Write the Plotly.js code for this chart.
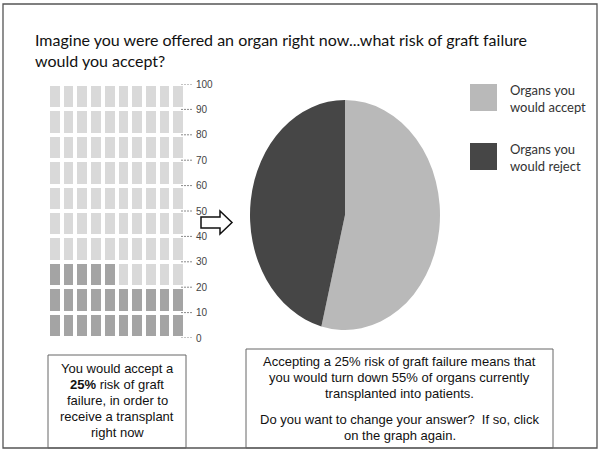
<!DOCTYPE html>
<html>
<head>
<meta charset="utf-8">
<script src="https://cdn.plot.ly/plotly-3.0.1.min.js"></script>
<style>html,body{margin:0;padding:0;background:#fff;}#chart{width:601px;height:453px;}</style>
</head>
<body>
<div id="chart"></div>
<script>
// ---- data ----
const titleLines = ['Imagine you were offered an organ right now...what risk of graft failure', 'would you accept?'];
const acceptedRisk = 25;            // % risk of graft failure accepted (waffle cells filled)
const waffleColumns = 10;
const waffleRowsCount = 10;
const tickValues = [0, 10, 20, 30, 40, 50, 60, 70, 80, 90, 100];
const tickLabels = ['0', '10', '20', '30', '40', '50', '60', '70', '80', '90', '100'];
const pieLabels = ['Organs you would accept', 'Organs you would reject'];
const legendLabels = ['Organs you<br>would accept', 'Organs you<br>would reject'];
const pieValues = [54, 46];
const pieColors = ['#b9b9b9', '#464646'];
const leftBoxLines = ['You would accept a', '<b>25%</b> risk of graft', 'failure, in order to', 'receive a transplant', 'right now'];
const rightBoxLines = ['Accepting a 25% risk of graft failure means that', 'you would turn down 55% of organs currently', 'transplanted into patients.', 'Do you want to change your answer?  If so, click', 'on the graph again.'];

// ---- helpers (pixel -> paper) ----
const W = 601, H = 453;
const px = x => x / W;
const py = y => 1 - y / H;

// waffle matrix derived from accepted risk
const z = [];
for (let r = 0; r < waffleRowsCount; r++) {
  const row = [];
  for (let c = 0; c < waffleColumns; c++) row.push(r * waffleColumns + c < acceptedRisk ? 1 : 0);
  z.push(row);
}

const traces = [
  {
    type: 'heatmap', z: z, x0: 0, dx: 1, y0: 5, dy: 10,
    xaxis: 'x', yaxis: 'y',
    colorscale: [[0, '#d9d9d9'], [1, '#a4a4a4']], zmin: 0, zmax: 1,
    showscale: false, xgap: 4, ygap: 4, hoverinfo: 'none'
  },
  {
    type: 'pie', labels: pieLabels, values: pieValues,
    marker: {colors: pieColors, line: {width: 0}},
    sort: false, direction: 'clockwise', rotation: 0,
    textinfo: 'none', showlegend: false, hoverinfo: 'label+percent',
    domain: {x: [px(250), px(440)], y: [py(310), py(120)]}
  }
];

const shapes = [];
// outer frame
shapes.push({type: 'rect', xref: 'paper', yref: 'paper', x0: px(3), x1: px(597), y0: py(448), y1: py(4), line: {color: '#555', width: 1.3}, fillcolor: 'rgba(0,0,0,0)', layer: 'below'});
// text boxes
shapes.push({type: 'rect', xref: 'paper', yref: 'paper', x0: px(48), x1: px(186), y0: py(448), y1: py(355), line: {color: '#666', width: 1}, fillcolor: 'rgba(0,0,0,0)'});
shapes.push({type: 'rect', xref: 'paper', yref: 'paper', x0: px(246), x1: px(553), y0: py(448), y1: py(349), line: {color: '#666', width: 1}, fillcolor: 'rgba(0,0,0,0)'});
// dashed tick marks
tickValues.forEach(v => shapes.push({type: 'line', xref: 'paper', yref: 'y', x0: px(181), x1: px(192), y0: v, y1: v, line: {color: '#8a8a8a', width: 1, dash: '2px,1px'}}));
// arrow
const arrowPts = [[201, 217], [220, 217], [220, 211], [232, 222.5], [220, 234], [220, 228], [201, 228]];
shapes.push({type: 'path', xref: 'paper', yref: 'paper', path: 'M' + arrowPts.map(p => px(p[0]) + ',' + py(p[1])).join(' L') + ' Z', line: {color: '#111', width: 1.5}, fillcolor: '#fff'});
// legend swatches
const swatchTop = [84, 143];
pieColors.forEach((c, i) => shapes.push({type: 'rect', xref: 'paper', yref: 'paper', x0: px(470), x1: px(497), y0: py(swatchTop[i] + 27), y1: py(swatchTop[i]), line: {width: 0}, fillcolor: c}));

const annotations = [];
legendLabels.forEach((t, i) => annotations.push({xref: 'paper', yref: 'paper', x: px(508), y: py(swatchTop[i] + 14), xanchor: 'left', yanchor: 'middle', align: 'left', text: t, showarrow: false, font: {family: 'Lato, sans-serif', size: 13, color: '#333'}}));
const leftY = [368, 384, 400, 416, 432];
leftBoxLines.forEach((t, i) => annotations.push({xref: 'paper', yref: 'paper', x: px(117), y: py(leftY[i]), xanchor: 'center', yanchor: 'middle', text: t, showarrow: false, font: {family: 'Liberation Sans, Arial, sans-serif', size: 13, color: '#111'}}));
const rightY = [361, 377, 393, 419, 435];
rightBoxLines.forEach((t, i) => annotations.push({xref: 'paper', yref: 'paper', x: px(399.5), y: py(rightY[i]), xanchor: 'center', yanchor: 'middle', text: t, showarrow: false, font: {family: 'Liberation Sans, Arial, sans-serif', size: 13, color: '#111'}}));

const layout = {
  width: W, height: H,
  margin: {l: 0, r: 0, t: 0, b: 0},
  paper_bgcolor: '#fff', plot_bgcolor: 'rgba(0,0,0,0)',
  showlegend: false,
  title: {text: titleLines.join('<br>'), x: px(35), xanchor: 'left', xref: 'paper', y: py(46), yanchor: 'middle', font: {family: 'Lato, sans-serif', size: 16, color: '#111'}},
  xaxis: {domain: [px(48), px(185)], range: [-0.5, 9.5], visible: false, fixedrange: true},
  yaxis: {domain: [py(338), py(84)], range: [0, 100], side: 'right', anchor: 'free', position: px(195),
          tickvals: tickValues, ticktext: tickLabels, ticks: '', showgrid: false, zeroline: false, showline: false,
          tickfont: {family: 'Liberation Sans, Arial, sans-serif', size: 10, color: '#444'}, fixedrange: true},
  shapes: shapes,
  annotations: annotations
};

Plotly.newPlot('chart', traces, layout, {displayModeBar: false, staticPlot: true}).then(() => {
  // stretch the pie vertically into the ellipse seen in the reference
  const cy = (310 + 120) / 2;
  const k = 230 / 190;
  document.querySelectorAll('#chart .pielayer').forEach(g => g.setAttribute('transform', `translate(0,${cy}) scale(1,${k}) translate(0,${-cy})`));
});
</script>
</body>
</html>
